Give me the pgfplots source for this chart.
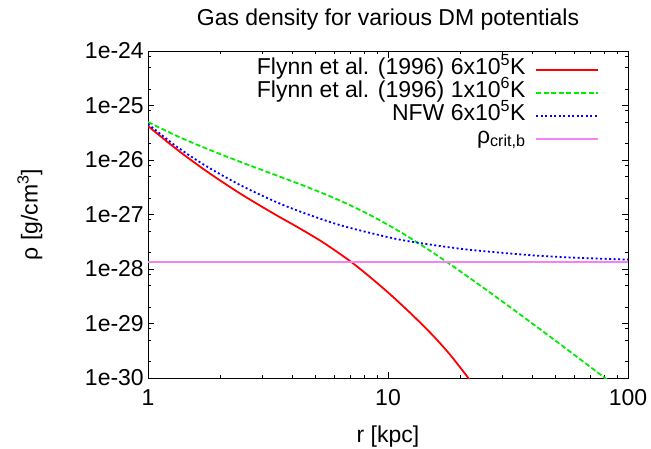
\documentclass[border=0pt]{standalone}
\usepackage{pgfplots}
\pgfplotsset{compat=1.18}
\usepackage{fontspec}
\setmainfont{Liberation Sans}
\definecolor{gred}{rgb}{1,0,0}
\definecolor{ggreen}{rgb}{0,0.93,0}
\definecolor{gblue}{rgb}{0,0,1}
\definecolor{gpink}{RGB}{245,130,245}
\begin{document}
\fontsize{23bp}{27bp}\selectfont
\begin{tikzpicture}
\useasboundingbox (0,0) rectangle (651bp,449bp);
\begin{loglogaxis}[
  at={(148bp,71bp)}, anchor=south west,
  scale only axis, width=480bp, height=327bp,
  xmin=1, xmax=100, ymin=1e-30, ymax=1e-24,
  xtick={1,10,100}, xticklabels={1,10,100},
  minor xtick={2,3,4,5,6,7,8,9,20,30,40,50,60,70,80,90},
  ytick={1e-30,1e-29,1e-28,1e-27,1e-26,1e-25,1e-24},
  yticklabels={1e-30,1e-29,1e-28,1e-27,1e-26,1e-25,1e-24},
  minor ytick={2e-30,5e-30,8e-30,2e-29,5e-29,8e-29,2e-28,5e-28,8e-28,2e-27,5e-27,8e-27,2e-26,5e-26,8e-26,2e-25,5e-25,8e-25},
  major tick length=6.5bp, minor tick length=3.3bp,
  tick style={black, line width=0.8bp},
  axis line style={line width=1bp},
  xticklabel style={inner sep=0pt, anchor=base, yshift=-27bp},
  yticklabel style={inner sep=0pt, anchor=east, xshift=-4bp},
  title={Gas density for various DM potentials},
  title style={at={(axis description cs:0.5,1.077)}, anchor=center, inner sep=0pt},
  xlabel={r [kpc]},
  xlabel style={at={(axis description cs:0.5,-0.18)}, anchor=center, inner sep=0pt},
  ylabel={ρ [g/cm\textsuperscript{3}]},
  ylabel style={at={(axis description cs:-0.246,0.5)}, anchor=center, inner sep=0pt},
  legend plot pos=right,
  legend cell align=right,
  legend image code/.code={\draw[#1] (0bp,0bp) -- (62bp,0bp);},
  legend style={draw=none, fill=none, at={(axis description cs:0.947,0.985)}, anchor=north east,
    nodes={inner sep=1bp, text height=15bp, text depth=6bp}, row sep=0bp,
    column sep=9bp},
]
\addplot[gred, line width=1.8bp, smooth] coordinates {
(1,4.21e-26) (1.3207,1.558e-26) (1.7567,6.20e-27) (2.4162,2.44e-27) (3.3269,1.048e-27)
(4.217,5.80e-28) (5.375,3.06e-28) (6.945,1.40e-28) (8.414,7.13e-29) (10.194,3.45e-29)
(12.589,1.457e-29) (15.446,5.92e-30) (18.126,2.69e-30) (21.08,1.155e-30) (21.96,9.0e-31)};
\addlegendentry{Flynn et al. (1996) 6x10\textsuperscript{5}K}
\addplot[ggreen, line width=1.8bp, dash pattern=on 5bp off 2.5bp, smooth] coordinates {
(1,4.98e-26) (1.3594,2.60e-26) (1.8131,1.526e-26) (2.4162,9.31e-27) (3.3816,5.35e-27)
(4.7315,3.05e-27) (6.3096,1.80e-27) (8.414,9.79e-28) (11.22,4.82e-28) (14.962,2.17e-28)
(19.953,9.15e-29) (29.286,2.73e-29) (47.315,5.75e-30) (80.20,1.0e-30) (88.27,7.26e-31)};
\addlegendentry{Flynn et al. (1996) 1x10\textsuperscript{6}K}
\addplot[gblue, line width=1.8bp, dash pattern=on 2bp off 2.5bp, smooth] coordinates {
(1,4.58e-26) (1.3207,1.747e-26) (1.7567,7.63e-27) (2.4162,3.49e-27) (3.3269,1.79e-27)
(4.2987,1.135e-27) (6.3096,6.39e-28) (10.194,3.77e-28) (13.594,3.00e-28) (21.34,2.28e-28)
(40.19,1.78e-28) (63.096,1.60e-28) (100,1.49e-28)};
\addlegendentry{NFW 6x10\textsuperscript{5}K}
\addplot[gpink, line width=1.9bp] coordinates {
(1,1.36e-28) (100,1.36e-28)};
\addlegendentry{ρ\textsubscript{crit,b}}
\end{loglogaxis}
\end{tikzpicture}
\end{document}
